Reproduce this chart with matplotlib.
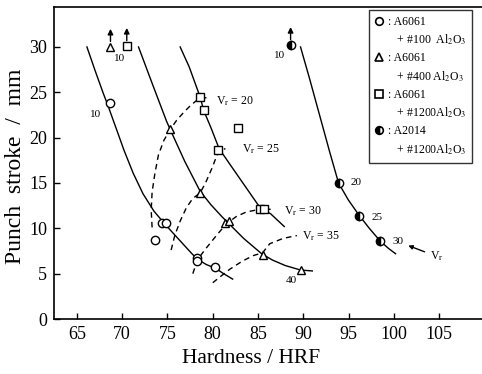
import matplotlib
matplotlib.use("Agg")
import matplotlib.pyplot as plt
from matplotlib.lines import Line2D

plt.rcParams['font.family'] = ['Liberation Serif', 'DejaVu Serif']
plt.rcParams['mathtext.fontset'] = 'stix'

# ---- data ----
# A6061 + #100 Al2O3 (open circles)
circ_x = [68.6, 74.4, 74.8, 73.6, 78.3, 78.3, 80.3]
circ_y = [23.8, 10.6, 10.6, 8.7, 6.7, 6.4, 5.7]
# A6061 + #400 Al2O3 (open triangles)
tri_x = [68.7, 75.3, 78.6, 81.4, 81.8, 85.5, 89.7]
tri_y = [30.0, 20.9, 13.9, 10.6, 10.8, 7.1, 5.4]
# A6061 + #1200 Al2O3 (open squares)
sq_x = [70.5, 78.6, 79.0, 82.8, 80.6, 85.2, 85.7]
sq_y = [30.1, 24.5, 23.0, 21.1, 18.6, 12.1, 12.1]
# A2014 + #1200 Al2O3 (half-filled circles)
hc_x = [88.6, 93.9, 96.2, 98.5]
hc_y = [30.2, 15.0, 11.4, 8.6]

# points that went off the top (arrows)
arrow_x = [68.7, 70.5, 88.6]
arrow_y = [30.0, 30.1, 30.2]

# solid trend curves (one per material)
curveA_x = [66.1, 67.0, 67.9, 68.4, 69.3, 70.2, 71.2, 72.3, 73.5, 74.6, 75.5, 76.6, 77.7, 78.3, 79.3, 80.3, 81.2, 82.2]
curveA_y = [30.0, 27.4, 24.9, 23.6, 21.1, 18.6, 16.1, 13.8, 11.9, 10.6, 9.6, 8.4, 7.2, 6.6, 6.0, 5.6, 5.0, 4.4]
curveB_x = [71.8, 73.3, 74.9, 75.3, 76.9, 78.6, 79.8, 81.0, 81.6, 83.4, 85.4, 86.6, 88.0, 89.7, 91.0]
curveB_y = [30.0, 26.0, 21.8, 20.9, 17.4, 14.1, 12.6, 11.3, 10.7, 8.9, 7.2, 6.5, 5.9, 5.4, 5.3]
curveC_x = [76.4, 77.4, 78.2, 78.6, 79.0, 79.8, 80.7, 81.8, 83.4, 85.0, 85.5, 86.4, 87.9]
curveC_y = [30.0, 27.8, 25.6, 24.5, 23.0, 21.1, 18.8, 17.2, 14.9, 12.6, 12.1, 11.6, 10.2]
curveD_x = [89.7, 90.7, 91.8, 92.9, 93.9, 95.0, 96.2, 97.3, 98.5, 99.4, 100.2]
curveD_y = [30.0, 26.5, 22.5, 18.5, 15.0, 13.1, 11.4, 10.0, 8.6, 7.8, 7.2]

# dashed constant-velocity curves
vf20_x = [73.3, 73.2, 73.3, 73.6, 74.0, 74.6, 75.3, 76.0, 76.8, 77.6, 78.6, 79.7]
vf20_y = [10.1, 12.0, 14.0, 16.0, 18.1, 19.7, 20.9, 21.9, 22.8, 23.6, 24.4, 24.4]
vf25_x = [75.4, 75.8, 76.4, 77.1, 77.8, 78.6, 79.2, 79.9, 80.6, 81.4]
vf25_y = [7.6, 9.2, 10.8, 12.3, 13.3, 13.9, 15.0, 16.6, 18.4, 18.8]
vf30_x = [77.8, 78.3, 79.1, 80.4, 81.5, 82.6, 83.7, 85.2, 86.4]
vf30_y = [5.0, 6.5, 7.6, 9.2, 10.5, 11.3, 11.8, 12.1, 12.1]
vf35_x = [80.0, 81.0, 81.9, 83.3, 84.5, 85.5, 86.3, 87.8, 89.3]
vf35_y = [4.0, 4.8, 5.5, 6.4, 7.0, 7.3, 8.3, 8.9, 9.2]

vf_labels = ["20", "25", "30", "35"]
vf_label_x = [80.4, 83.2, 87.9, 89.9]
vf_label_y = [24.0, 18.7, 11.9, 9.1]

num_labels = ["10", "10", "40", "10", "20", "25", "30"]
num_x = [67.1, 69.7, 88.7, 87.4, 95.8, 98.2, 100.5]
num_y = [22.6, 28.7, 4.3, 29.1, 15.0, 11.2, 8.6]

x_ticks = [65, 70, 75, 80, 85, 90, 95, 100, 105]
y_ticks = [0, 5, 10, 15, 20, 25, 30]

# ---- figure ----
fig = plt.figure(figsize=(4.82, 3.74), dpi=100)
ax = fig.add_axes([54/482, 1-319/374, 428/482, 312/374])
ax.set_xlim(62.46, 109.75)
ax.set_ylim(0, 34.41)

lw = 1.0
for cx, cy in [(curveA_x, curveA_y), (curveB_x, curveB_y), (curveC_x, curveC_y), (curveD_x, curveD_y)]:
    ax.plot(cx, cy, color='k', lw=lw, zorder=2)
for cx, cy in [(vf20_x, vf20_y), (vf25_x, vf25_y), (vf30_x, vf30_y), (vf35_x, vf35_y)]:
    ax.plot(cx, cy, color='k', lw=lw, ls=(0, (4, 3)), zorder=2)

ms = 6
mk = dict(ls='none', mec='k', mfc='white', mew=1.0, ms=ms, zorder=4)
ax.plot(circ_x, circ_y, marker='o', **mk)
ax.plot(tri_x, tri_y, marker='^', **mk)
ax.plot(sq_x, sq_y, marker='s', **mk)
ax.plot(hc_x, hc_y, ls='none', marker='o', mec='k', mfc='k', mfcalt='white',
        fillstyle='left', mew=1.0, ms=ms, zorder=4)

for x, y in zip(arrow_x, arrow_y):
    ax.annotate('', xy=(x, y + 2.0), xytext=(x, y + 0.6),
                arrowprops=dict(arrowstyle='-|>', lw=1.0, color='k', mutation_scale=8,
                                shrinkA=0, shrinkB=0), zorder=5)

for t, x, y in zip(num_labels, num_x, num_y):
    ax.text(x, y, t, fontsize=8, ha='center', va='center', zorder=5)

for t, x, y in zip(vf_labels, vf_label_x, vf_label_y):
    ax.text(x, y, r"V$_{\rm r}$ = " + t, fontsize=8.5, ha='left', va='center', zorder=5)

ax.annotate(r"V$_{\rm r}$", xy=(101.6, 8.1), xytext=(104.0, 6.9), fontsize=8.5,
            ha='left', va='center',
            arrowprops=dict(arrowstyle='-|>', lw=1.0, color='k', mutation_scale=6,
                            shrinkA=2, shrinkB=0))

ax.set_xticks(x_ticks)
ax.set_yticks(y_ticks)
ax.tick_params(direction='in', length=4, width=1, labelsize=13, pad=5)
for s in ['left', 'bottom', 'top']:
    ax.spines[s].set_linewidth(1.2)
ax.spines['right'].set_visible(False)

ax.set_xlabel("Hardness / HRF", fontsize=15.5)
ax.set_ylabel("Punch  stroke  /  mm", fontsize=17)
ax.xaxis.set_label_coords(0.46, -0.097)
ax.yaxis.set_label_coords(-0.066, 0.49)

# legend
blank = Line2D([], [], ls='none', marker='none')
handles = [
    Line2D([], [], ls='none', marker='o', mec='k', mfc='white', mew=1.2, ms=5.5), blank,
    Line2D([], [], ls='none', marker='^', mec='k', mfc='white', mew=1.2, ms=5.5), blank,
    Line2D([], [], ls='none', marker='s', mec='k', mfc='white', mew=1.2, ms=5.5), blank,
    Line2D([], [], ls='none', marker='o', mec='k', mfc='k', mfcalt='white', fillstyle='left', mew=1.2, ms=5.5), blank,
]
labels = [
    ": A6061", r"   + #100  Al$_2$O$_3$",
    ": A6061", r"   + #400 Al$_2$O$_3$",
    ": A6061", r"   + #1200Al$_2$O$_3$",
    ": A2014", r"   + #1200Al$_2$O$_3$",
]
leg = ax.legend(handles, labels, loc='upper right', bbox_to_anchor=(0.977, 0.99),
                fontsize=8.5, frameon=True, fancybox=False, edgecolor='k',
                handlelength=0.8, handletextpad=0.3, labelspacing=0.42,
                borderpad=0.5, borderaxespad=0)
leg.get_frame().set_linewidth(1.0)

fig.savefig("out.png", dpi=100)
